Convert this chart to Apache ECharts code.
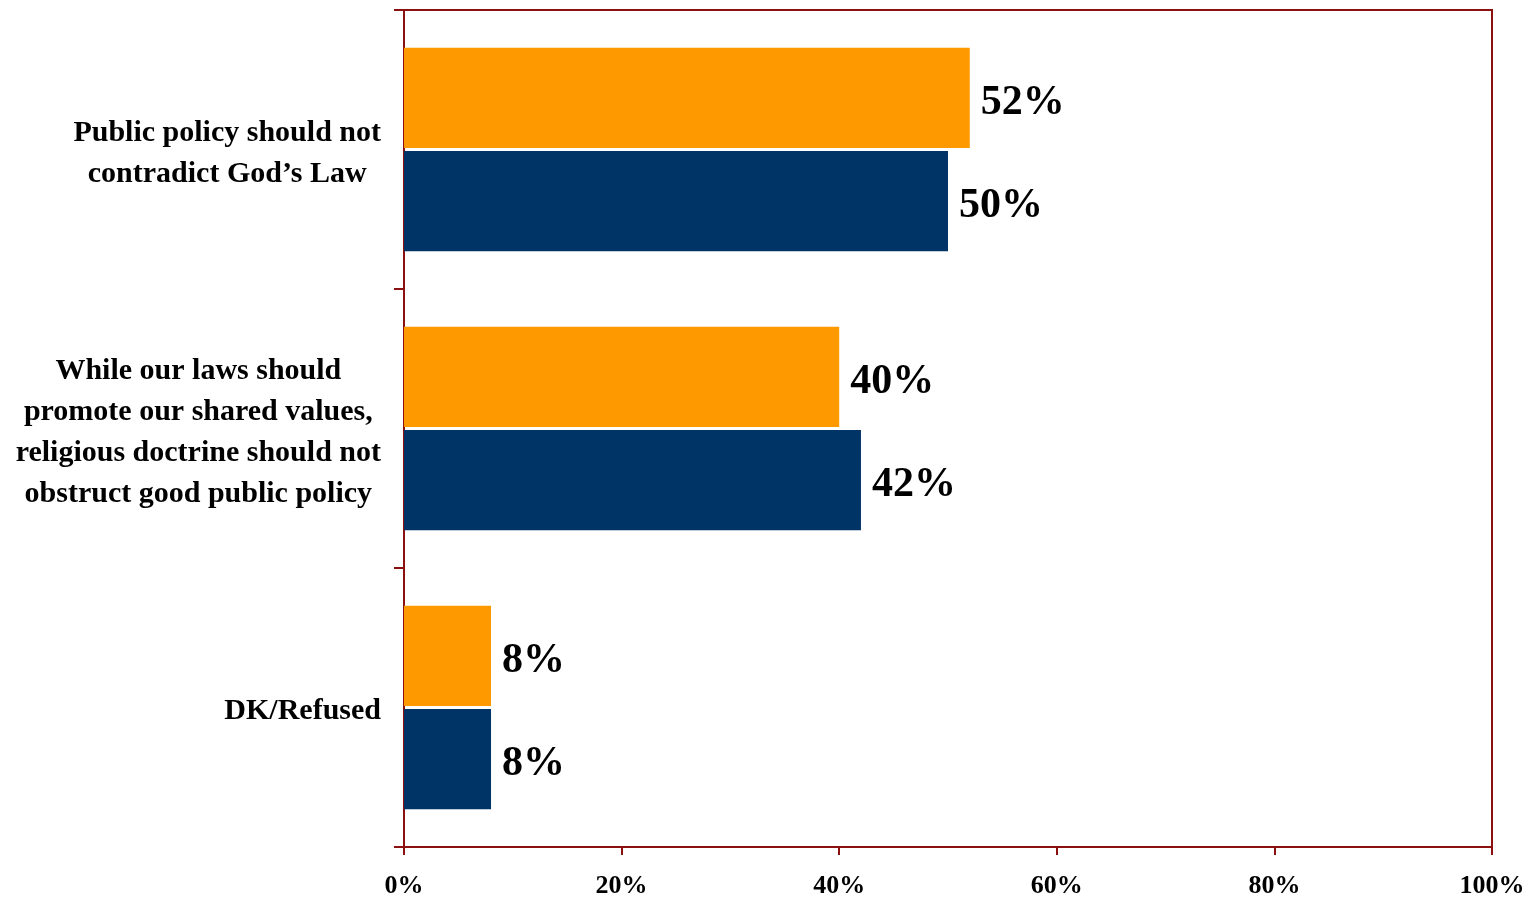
<!DOCTYPE html>
<html>
<head>
<meta charset="utf-8">
<script src="https://cdn.jsdelivr.net/npm/echarts@6/dist/echarts.min.js"></script>
<style>
  html, body { margin: 0; padding: 0; background: #fff; }
  #chart { width: 1534px; height: 899px; }
</style>
</head>
<body>
<div id="chart"></div>
<script>
const categories = [
  'Public policy should not\ncontradict God\u2019s Law',
  'While our laws should\npromote our shared values,\nreligious doctrine should not\nobstruct good public policy',
  'DK/Refused'
];
const orangeValues = [52, 40, 8];
const navyValues = [50, 42, 8];
const axisColor = '#8B1010';
const serif = '"Liberation Serif", "Times New Roman", serif';

const valueLabel = {
  show: true,
  position: 'right',
  distance: 11,
  offset: [0, 5],
  formatter: '{c}%',
  color: '#000',
  fontFamily: serif,
  fontWeight: 'bold',
  fontSize: 42,
};

const myChart = echarts.init(document.getElementById('chart'));
const option = {
  backgroundColor: '#fff',
  animation: false,
  grid: {
    left: 404,
    right: 42,
    top: 10,
    bottom: 52,
    show: true,
    borderColor: axisColor,
    borderWidth: 2,
  },
  xAxis: {
    type: 'value',
    min: 0,
    max: 100,
    interval: 20,
    axisLine: { show: true, lineStyle: { color: axisColor, width: 2 } },
    axisTick: { show: true, length: 8, lineStyle: { color: axisColor, width: 2 } },
    splitLine: { show: false },
    axisLabel: {
      formatter: '{value}%',
      color: '#000',
      fontFamily: serif,
      fontWeight: 'bold',
      fontSize: 26,
      margin: 26,
    },
  },
  yAxis: {
    type: 'category',
    inverse: true,
    data: categories,
    axisLine: { show: true, lineStyle: { color: axisColor, width: 2 } },
    axisTick: { show: true, length: 10, lineStyle: { color: axisColor, width: 2 } },
    axisLabel: {
      margin: 23,
      align: 'right',
      padding: [8, 0, 0, 0],
      formatter: (v) => v.split('\n').map((s) => '{c|' + s + '}').join('\n'),
      rich: {
        c: {
          align: 'center',
          color: '#000',
          fontFamily: serif,
          fontWeight: 'bold',
          fontSize: 30,
          lineHeight: 41,
        },
      },
    },
  },
  series: [
    {
      name: 'Orange',
      type: 'bar',
      data: orangeValues,
      barCategoryGap: '27%',
      barGap: '3%',
      itemStyle: { color: '#FF9900' },
      label: valueLabel,
    },
    {
      name: 'Navy',
      type: 'bar',
      data: navyValues,
      barCategoryGap: '27%',
      barGap: '3%',
      itemStyle: { color: '#003366' },
      label: valueLabel,
    },
  ],
};
myChart.setOption(option);
</script>
</body>
</html>
